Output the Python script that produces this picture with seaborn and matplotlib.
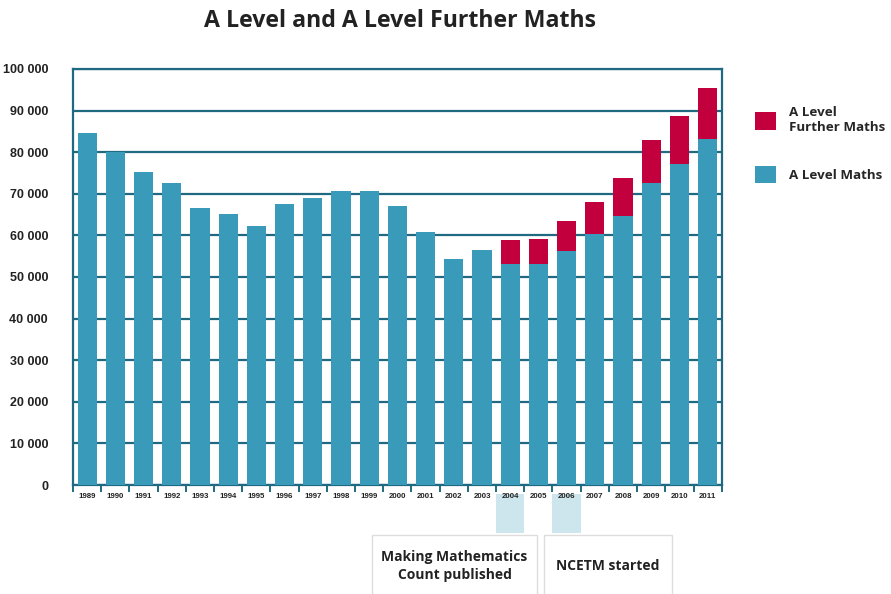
"""A Level and A Level Further Maths entries, 1989-2011 (stacked bars)."""

import numpy as np
import pandas as pd
import matplotlib as mpl
import matplotlib.pyplot as plt
import seaborn as sns
from matplotlib.patches import Patch, Rectangle
from matplotlib.transforms import blended_transform_factory

# ── data ─────────────────────────────────────────────────────────────────────
years = [str(y) for y in range(1989, 2012)]
maths = [84700, 80000, 75200, 72500, 66600, 65100, 62300, 67600, 68900,
         70700, 70700, 67100, 60800, 54300, 56400, 53200, 53200, 56200,
         60400, 64700, 72600, 77100, 83200]
further = [0, 0, 0, 0, 0, 0, 0, 0, 0, 0, 0, 0, 0, 0, 0,
           5600, 5900, 7200, 7700, 9100, 10400, 11700, 12100]
y_ticks = list(range(0, 100001, 10000))
events = {"2004": "Making Mathematics\nCount published", "2006": "NCETM started"}

TEAL = "#3a9aba"
CRIMSON = "#c2003d"
FRAME = "#1f6a80"
HILITE = "#cde6ee"

df = pd.DataFrame({"year": years, "maths": maths, "further": further})
df["total"] = df["maths"] + df["further"]

sns.set_theme(style="white")
plt.rcParams["font.family"] = ["Liberation Sans", "DejaVu Sans"]

fig = plt.figure(figsize=(8.91, 5.94), dpi=100)
ax = fig.add_axes([0.082, 0.1835, 0.728, 0.7005])

sns.barplot(data=df, x="year", y="total", color=CRIMSON, width=0.68,
            saturation=1, linewidth=0, ax=ax, zorder=2)
sns.barplot(data=df, x="year", y="maths", color=TEAL, width=0.68,
            saturation=1, linewidth=0, ax=ax, zorder=3)

ax.set_xlim(-0.5, len(years) - 0.5)
ax.set_ylim(0, 100000)
ax.set_xlabel("")
ax.set_ylabel("")

# grid + frame
ax.set_axisbelow(True)
ax.yaxis.grid(True, color=FRAME, linewidth=1.6)
ax.xaxis.grid(False)
for s in ax.spines.values():
    s.set_visible(True)
    s.set_color(FRAME)
    s.set_linewidth(1.6)

ax.set_yticks(y_ticks)
ax.set_yticklabels([f"{v:,}".replace(",", " ") for v in y_ticks],
                   fontsize=9, fontweight="bold", color="#222222")
ax.tick_params(axis="y", length=0, pad=18)

ax.set_xticks(range(len(years)))
ax.set_xticklabels(years, fontsize=5.7, fontweight="bold", color="#222222")
ax.set_xticks(np.arange(-0.5, len(years)), minor=True)
ax.tick_params(axis="x", which="major", length=0, pad=6)
ax.tick_params(axis="x", which="minor", length=5, width=1.4, color=FRAME,
               bottom=True, direction="out")

# event highlights below the axis
trans = blended_transform_factory(ax.transData, ax.transAxes)
for yr in events:
    i = years.index(yr)
    ax.add_patch(Rectangle((i - 0.5, -0.115), 1.0, 0.093, transform=trans,
                           facecolor=HILITE, edgecolor="none",
                           clip_on=False, zorder=0))

box_spec = [(372, 537), (544, 672)]
for (x0, x1), (yr, txt) in zip(box_spec, events.items()):
    fx0, fx1 = x0 / 891, x1 / 891
    fig.add_artist(Rectangle((fx0, -0.05), fx1 - fx0, 0.05 + (594 - 535) / 594,
                             transform=fig.transFigure, facecolor="white",
                             edgecolor="#dddddd", linewidth=1.0))
    fig.text((fx0 + fx1) / 2, 1 - 566 / 594, txt, ha="center", va="center",
             fontsize=10, fontweight="bold", color="#222222",
             family=["Open Sans", "DejaVu Sans"], linespacing=1.3)

# legend
handles = [Patch(facecolor=CRIMSON, edgecolor="none", label="A Level\nFurther Maths"),
           Patch(facecolor=TEAL, edgecolor="none", label="A Level Maths")]
ax.legend(handles=handles, loc="upper left", bbox_to_anchor=(1.051, 0.91),
          frameon=False, borderaxespad=0, borderpad=0,
          handlelength=1.6, handleheight=1.6, handletextpad=1.0,
          labelspacing=2.4,
          prop={"family": ["Open Sans", "DejaVu Sans"], "weight": "bold", "size": 9.6})

fig.text(0.449, 1 - 21 / 594, "A Level and A Level Further Maths",
         ha="center", va="center", fontsize=16.7, fontweight="bold",
         family=["Open Sans", "DejaVu Sans"], color="#222222")

fig.savefig("out.png", dpi=100)
plt.close(fig)
